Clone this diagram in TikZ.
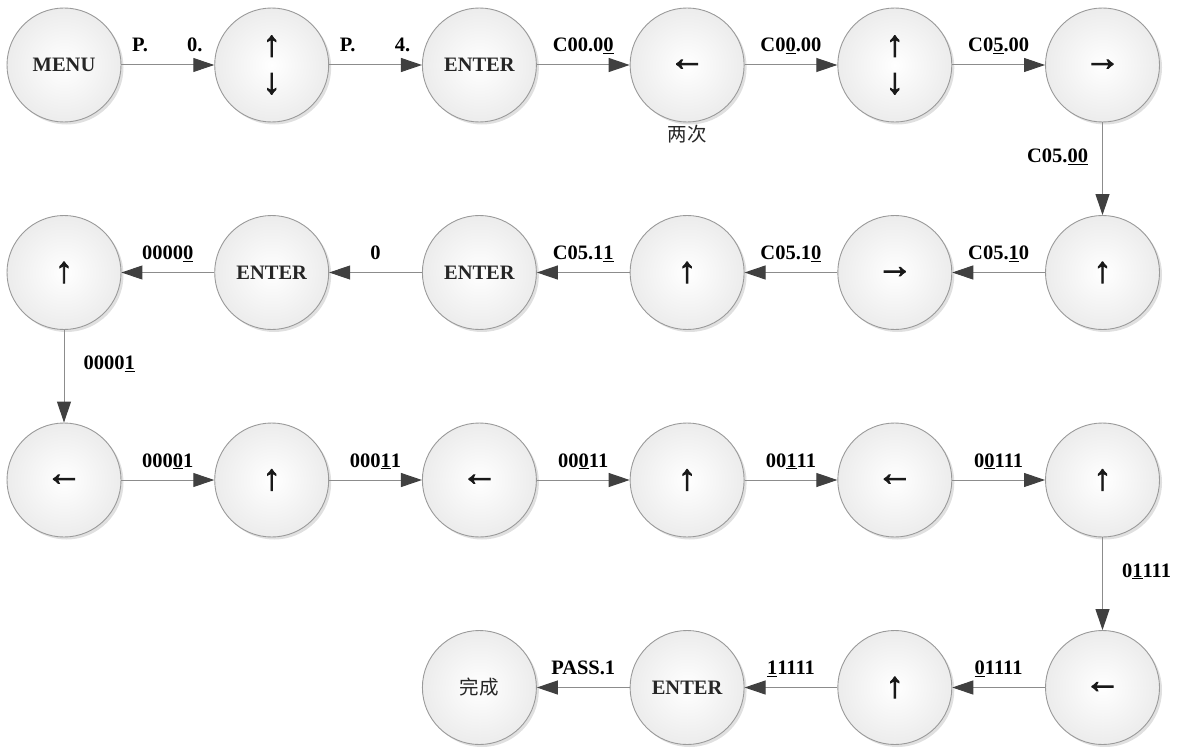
\documentclass[tikz,border=0pt]{standalone}
\usepackage{fontspec}
\setmainfont{Liberation Serif}
\newfontfamily\cjkfont{Noto Sans CJK SC}
\newfontfamily\arrowfont{Liberation Serif}[FakeBold=2.5]
\usetikzlibrary{arrows.meta,shadows}
\definecolor{circfill}{HTML}{ECECEC}
\definecolor{circline}{HTML}{9A9A9A}
\definecolor{edgeline}{HTML}{8C8C8C}
\definecolor{tipcol}{HTML}{404040}
\newcommand\udl[1]{\underline{#1}}
\tikzset{
  state/.style={circle, draw=circline, line width=0.9pt, inner sep=0pt,
    minimum size=114pt, inner color=white, outer color=circfill,
    font=\fontsize{20.5}{22}\selectfont\bfseries, text=black!85,
    drop shadow={shadow xshift=2.5pt, shadow yshift=-2.5pt, fill=black!35, opacity=0.35}},
  glyph/.style={font=\fontsize{36}{37.5}\selectfont\arrowfont\bfseries, align=center, text=black!90},
  cjktext/.style={font=\fontsize{19.5}{21}\selectfont\cjkfont, text=black!85},
  edge/.style={draw=edgeline, line width=1pt,
    -{Triangle[length=21pt,width=14pt,color=tipcol]}},
  lbl/.style={anchor=base, yshift=13pt, inner sep=0pt,
    font=\fontsize{20.5}{22}\selectfont\bfseries},
  vlblleft/.style={lbl, anchor=base east, xshift=-14pt, yshift=-6.5pt},
  vlblright/.style={lbl, anchor=base west, xshift=19pt, yshift=-6.5pt},
}
\begin{document}
\begin{tikzpicture}[x=1pt,y=-1pt]
\useasboundingbox (0,0) rectangle (1182,749);
% row 1
\node[state] (a1) at (64,65) {MENU};
\node[state,glyph] (a2) at (271.7,65) {↑\\↓};
\node[state] (a3) at (479.4,65) {ENTER};
\node[state,glyph] (a4) at (687.1,65) {←};
\node[state,glyph] (a5) at (894.8,65) {↑\\↓};
\node[state,glyph] (a6) at (1102.5,65) {→};
\node[cjktext, anchor=north, inner sep=0pt] (twice) at ([yshift=-2pt]a4.south) {两次};
% row 2
\node[state,glyph] (b1) at (64,272.5) {↑};
\node[state] (b2) at (271.7,272.5) {ENTER};
\node[state] (b3) at (479.4,272.5) {ENTER};
\node[state,glyph] (b4) at (687.1,272.5) {↑};
\node[state,glyph] (b5) at (894.8,272.5) {→};
\node[state,glyph] (b6) at (1102.5,272.5) {↑};
% row 3
\node[state,glyph] (c1) at (64,480) {←};
\node[state,glyph] (c2) at (271.7,480) {↑};
\node[state,glyph] (c3) at (479.4,480) {←};
\node[state,glyph] (c4) at (687.1,480) {↑};
\node[state,glyph] (c5) at (894.8,480) {←};
\node[state,glyph] (c6) at (1102.5,480) {↑};
% row 4
\node[state,cjktext] (d3) at (479.4,687.5) {完成};
\node[state] (d4) at (687.1,687.5) {ENTER};
\node[state,glyph] (d5) at (894.8,687.5) {↑};
\node[state,glyph] (d6) at (1102.5,687.5) {←};
% edges row 1
\draw[edge] (a1) -- node[lbl,pos=0.2]{P.} node[lbl,pos=0.79]{0.} (a2);
\draw[edge] (a2) -- node[lbl,pos=0.2]{P.} node[lbl,pos=0.79]{4.} (a3);
\draw[edge] (a3) -- node[lbl]{C00.0\udl{0}} (a4);
\draw[edge] (a4) -- node[lbl]{C0\udl{0}.00} (a5);
\draw[edge] (a5) -- node[lbl]{C0\udl{5}.00} (a6);
\draw[edge] (a6) -- node[vlblleft]{C05.\udl{00}} (b6);
% edges row 2
\draw[edge] (b6) -- node[lbl]{C05.\udl{1}0} (b5);
\draw[edge] (b5) -- node[lbl]{C05.1\udl{0}} (b4);
\draw[edge] (b4) -- node[lbl]{C05.1\udl{1}} (b3);
\draw[edge] (b3) -- node[lbl]{0} (b2);
\draw[edge] (b2) -- node[lbl]{0000\udl{0}} (b1);
\draw[edge] (b1) -- node[vlblright]{0000\udl{1}} (c1);
% edges row 3
\draw[edge] (c1) -- node[lbl]{000\udl{0}1} (c2);
\draw[edge] (c2) -- node[lbl]{000\udl{1}1} (c3);
\draw[edge] (c3) -- node[lbl]{00\udl{0}11} (c4);
\draw[edge] (c4) -- node[lbl]{00\udl{1}11} (c5);
\draw[edge] (c5) -- node[lbl]{0\udl{0}111} (c6);
\draw[edge] (c6) -- node[vlblright]{0\udl{1}111} (d6);
% edges row 4
\draw[edge] (d6) -- node[lbl]{\udl{0}1111} (d5);
\draw[edge] (d5) -- node[lbl]{\udl{1}1111} (d4);
\draw[edge] (d4) -- node[lbl]{PASS.1} (d3);
\end{tikzpicture}
\end{document}
